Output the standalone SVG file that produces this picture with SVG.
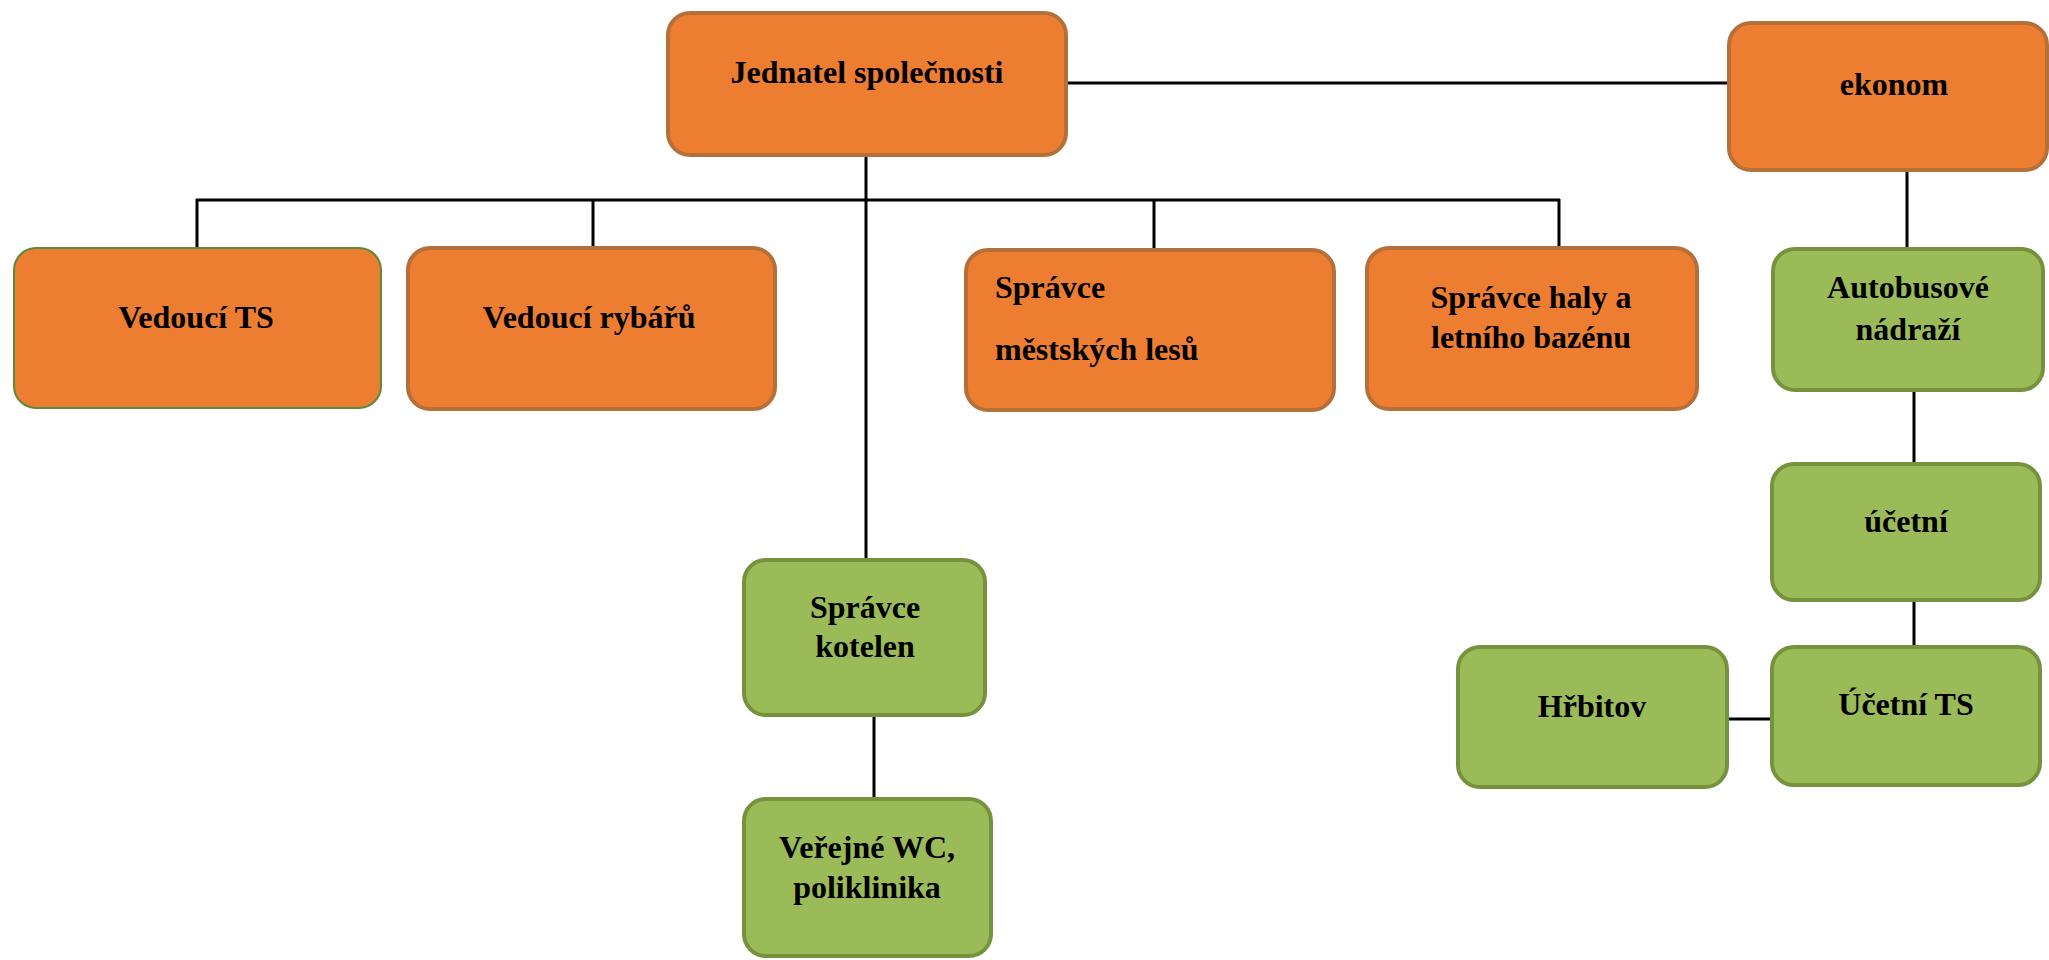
<svg xmlns="http://www.w3.org/2000/svg" width="2049" height="960" viewBox="0 0 2049 960">
<style>
.o{fill:#ED7D31;stroke:#B5703A;stroke-width:4}
.g{fill:#9BBB59;stroke:#76923C;stroke-width:4}
.ot{fill:#ED7D31;stroke:#5A8A3A;stroke-width:2}
.t{font-family:"Liberation Serif","Times New Roman",serif;font-weight:bold;font-size:32px;fill:#000;text-anchor:middle}
.l{text-anchor:start}
.c{stroke:#000;stroke-width:3;fill:none}
</style>
<rect width="2049" height="960" fill="#fff"/>
<g id="connectors">
<line class="c" x1="1068" y1="83" x2="1728" y2="83"/>
<line class="c" x1="866" y1="157" x2="866" y2="559"/>
<line class="c" x1="196" y1="200" x2="1560" y2="200"/>
<line class="c" x1="197" y1="199" x2="197" y2="248"/>
<line class="c" x1="593" y1="200" x2="593" y2="247"/>
<line class="c" x1="1154" y1="200" x2="1154" y2="249"/>
<line class="c" x1="1559" y1="199" x2="1559" y2="247"/>
<line class="c" x1="1907" y1="172" x2="1907" y2="248"/>
<line class="c" x1="1914" y1="392" x2="1914" y2="463"/>
<line class="c" x1="1914" y1="602" x2="1914" y2="646"/>
<line class="c" x1="1729" y1="719" x2="1771" y2="719"/>
<line class="c" x1="874" y1="717" x2="874" y2="798"/>
</g>
<g id="jednatel"><rect class="o" x="668" y="13" width="398" height="142" rx="22"/><text class="t" x="867" y="83">Jednatel společnosti</text></g>
<g id="ekonom"><rect class="o" x="1729" y="23" width="318" height="147" rx="22"/><text class="t" x="1894" y="95">ekonom</text></g>
<g id="vedouci-ts"><rect class="ot" x="14" y="248" width="367" height="160" rx="22"/><text class="t" x="196" y="328">Vedoucí TS</text></g>
<g id="vedouci-rybaru"><rect class="o" x="408" y="248" width="367" height="161" rx="22"/><text class="t" x="589" y="328">Vedoucí rybářů</text></g>
<g id="spravce-lesu"><rect class="o" x="966" y="250" width="368" height="160" rx="22"/><text class="t l" x="995" y="298">Správce</text><text class="t l" x="995" y="360">městských lesů</text></g>
<g id="spravce-haly"><rect class="o" x="1367" y="248" width="330" height="161" rx="22"/><text class="t" x="1531" y="308">Správce haly a</text><text class="t" x="1531" y="348">letního bazénu</text></g>
<g id="autobusove"><rect class="g" x="1773" y="249" width="270" height="141" rx="22"/><text class="t" x="1908" y="298">Autobusové</text><text class="t" x="1908" y="340">nádraží</text></g>
<g id="ucetni"><rect class="g" x="1772" y="464" width="268" height="136" rx="22"/><text class="t" x="1906" y="532">účetní</text></g>
<g id="ucetni-ts"><rect class="g" x="1772" y="647" width="268" height="138" rx="22"/><text class="t" x="1906" y="715">Účetní TS</text></g>
<g id="hrbitov"><rect class="g" x="1458" y="647" width="269" height="140" rx="22"/><text class="t" x="1592" y="717">Hřbitov</text></g>
<g id="spravce-kotelen"><rect class="g" x="744" y="560" width="241" height="155" rx="22"/><text class="t" x="865" y="618">Správce</text><text class="t" x="865" y="657">kotelen</text></g>
<g id="verejne-wc"><rect class="g" x="744" y="799" width="247" height="157" rx="22"/><text class="t" x="867" y="858">Veřejné WC,</text><text class="t" x="867" y="898">poliklinika</text></g>
</svg>
